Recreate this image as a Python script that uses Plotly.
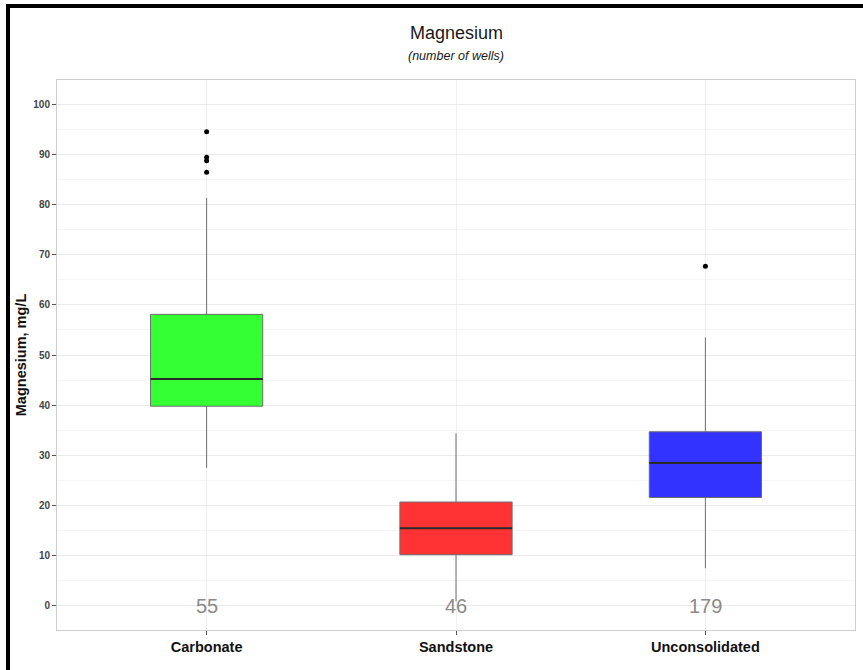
import plotly.graph_objects as go

# Magnesium concentrations by aquifer type (box summaries, mg/L)
categories = ["Carbonate", "Sandstone", "Unconsolidated"]
well_counts = [55, 46, 179]
q1_values = [39.8, 10.2, 21.6]
median_values = [45.2, 15.5, 28.5]
q3_values = [58.1, 20.7, 34.7]
lower_whiskers = [27.5, 0.9, 7.5]
upper_whiskers = [81.3, 34.4, 53.5]
outlier_values = [[94.5, 89.4, 88.7, 86.4], [], [67.7]]
fill_colors = ["#33FF33", "#FF3333", "#3333FF"]
y_tick_values = list(range(0, 101, 10))

W, H = 863, 670
ML, MR, MT, MB = 57, 8, 80, 40
PW, PH = W - ML - MR, H - MT - MB
BOX_WIDTH = 0.45
FONT = "Liberation Sans, Arial"


def px_x(p):
    return (p - ML) / PW


def px_y(p):
    return (H - MB - p) / PH


positions = list(range(1, len(categories) + 1))

fig = go.Figure()

for i, pos in enumerate(positions):
    fig.add_trace(go.Box(
        x=[pos],
        q1=[q1_values[i]],
        median=[median_values[i]],
        q3=[q3_values[i]],
        lowerfence=[lower_whiskers[i]],
        upperfence=[upper_whiskers[i]],
        fillcolor=fill_colors[i],
        line=dict(color="#6e6e6e", width=1),
        width=BOX_WIDTH,
        whiskerwidth=0,
        boxpoints=False,
        hoverinfo="skip",
        showlegend=False,
    ))
    # darker median bar drawn over the box
    fig.add_trace(go.Scatter(
        x=[pos - BOX_WIDTH / 2, pos + BOX_WIDTH / 2],
        y=[median_values[i], median_values[i]],
        mode="lines",
        line=dict(color="#2a2a2a", width=2),
        hoverinfo="skip",
        showlegend=False,
    ))
    if outlier_values[i]:
        fig.add_trace(go.Scatter(
            x=[pos] * len(outlier_values[i]),
            y=outlier_values[i],
            mode="markers",
            marker=dict(color="black", size=5),
            hoverinfo="skip",
            showlegend=False,
        ))
    fig.add_annotation(
        x=pos, y=0, xref="x", yref="y",
        text=str(well_counts[i]), showarrow=False,
        font=dict(family=FONT, size=20, color="#8a8a8a"),
        yanchor="middle",
    )

# title and subtitle
fig.add_annotation(
    x=0.5, y=px_y(33), xref="paper", yref="paper", showarrow=False,
    text="Magnesium", yanchor="middle",
    font=dict(family=FONT, size=18, color="#1a1a1a"),
)
fig.add_annotation(
    x=0.5, y=px_y(56), xref="paper", yref="paper", showarrow=False,
    text="<i>(number of wells)</i>", yanchor="middle",
    font=dict(family=FONT, size=12.5, color="#1a1a1a"),
)

# heavy black frame along the top and left edges
fig.add_shape(type="rect", xref="paper", yref="paper", layer="above",
              x0=px_x(6), x1=px_x(W + 4), y0=px_y(8), y1=px_y(4),
              fillcolor="black", line=dict(width=0))
fig.add_shape(type="rect", xref="paper", yref="paper", layer="above",
              x0=px_x(6), x1=px_x(10), y0=px_y(H + 4), y1=px_y(4),
              fillcolor="black", line=dict(width=0))

fig.update_layout(
    width=W, height=H,
    margin=dict(l=ML, r=MR, t=MT, b=MB, pad=0),
    paper_bgcolor="white",
    plot_bgcolor="white",
    font=dict(family=FONT, color="#1a1a1a"),
    showlegend=False,
)

fig.update_xaxes(
    range=[0.4, 3.6],
    tickmode="array", tickvals=positions, ticktext=categories,
    tickfont=dict(family=FONT, size=14.5, color="#111111", weight=700),
    ticks="outside", ticklen=4, tickcolor="#555555", tickwidth=1,
    showgrid=True, gridcolor="#f0f0f0", gridwidth=1,
    showline=True, linecolor="#cfcfcf", linewidth=1, mirror=True,
    zeroline=False,
)
fig.update_yaxes(
    range=[-4.8, 104.8],
    tickmode="array", tickvals=y_tick_values,
    tickfont=dict(family=FONT, size=10, color="#444444", weight=700),
    ticks="outside", ticklen=4, tickcolor="#555555", tickwidth=1,
    showgrid=True, gridcolor="#ebebeb", gridwidth=1,
    minor=dict(dtick=5, tick0=0, showgrid=True, gridcolor="#f5f5f5", ticks=""),
    showline=True, linecolor="#cfcfcf", linewidth=1, mirror=True,
    zeroline=False,
    title=dict(text="Magnesium, mg/L", standoff=3,
               font=dict(family=FONT, size=14.5, color="#111111", weight=700)),
)

fig.write_html("out.html")
